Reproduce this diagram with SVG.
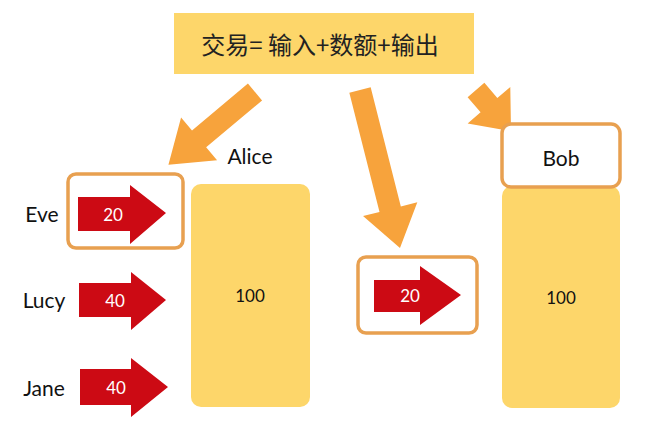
<svg xmlns="http://www.w3.org/2000/svg" width="660" height="431" viewBox="0 0 660 431">
<style>
.lbl{font-family:Lato,"Liberation Sans",sans-serif;font-size:21px;fill:#111;text-anchor:middle}
.num{font-family:Lato,"Liberation Sans",sans-serif;font-size:17px;fill:#fff;text-anchor:middle}
.yel{fill:#FDD66A}
.frame{fill:none;stroke:#E8A050;stroke-width:3.5}
.red{fill:#CC0A14}
.org{fill:#F7A33C}
</style>
<rect width="660" height="431" fill="#fff"/>
<g id="title"><rect x="174" y="13" width="300" height="61" class="yel"/>
<text x="320" y="54" font-family="'Noto Sans CJK SC',sans-serif" font-size="24" fill="#222" text-anchor="middle">交易= 输入+数额+输出</text></g>
<g id="connectors">
<path class="org" transform="translate(255,92) rotate(140)" d="M0,-11H73V-28L113,0L73,28V11H0Z"/>
<path class="org" transform="translate(360,90) rotate(75.8)" d="M0,-11H123V-28L163,0L123,28V11H0Z"/>
<path class="org" transform="translate(476,90) rotate(49.6)" d="M0,-11H20V-28L54,0L20,28V11H0Z"/>
</g>
<g id="alice"><text x="250" y="164" class="lbl">Alice</text>
<rect x="191" y="184" width="119" height="223" rx="10" class="yel"/>
<text x="250" y="302" class="num" fill="#111" style="fill:#111">100</text></g>
<g id="bob"><rect x="502" y="186" width="118" height="222" rx="10" class="yel"/>
<rect x="502" y="124" width="118" height="63" rx="9" class="frame" style="fill:#fff"/>
<text x="561" y="166" class="lbl">Bob</text>
<text x="561" y="304" class="num" style="fill:#111">100</text></g>
<g id="eve"><text x="42" y="222" class="lbl">Eve</text>
<rect x="68" y="174" width="115" height="74" rx="8" class="frame"/>
<path class="red" d="M78,197H130V185L166,213L130,244V231H78Z"/>
<text x="113" y="221" class="num">20</text></g>
<g id="lucy"><text x="44" y="308" class="lbl">Lucy</text>
<path class="red" d="M79,283H131V272L166,300L131,330V317H79Z"/>
<text x="115" y="307" class="num">40</text></g>
<g id="jane"><text x="44" y="396" class="lbl">Jane</text>
<path class="red" d="M80,369H131V358L168,387L131,417V405H80Z"/>
<text x="116" y="394" class="num">40</text></g>
<g id="output"><rect x="358" y="257" width="119" height="76" rx="8" class="frame"/>
<path class="red" d="M374,280H420V266L461,295L420,325V312H374Z"/>
<text x="410" y="302" class="num">20</text></g>
</svg>
